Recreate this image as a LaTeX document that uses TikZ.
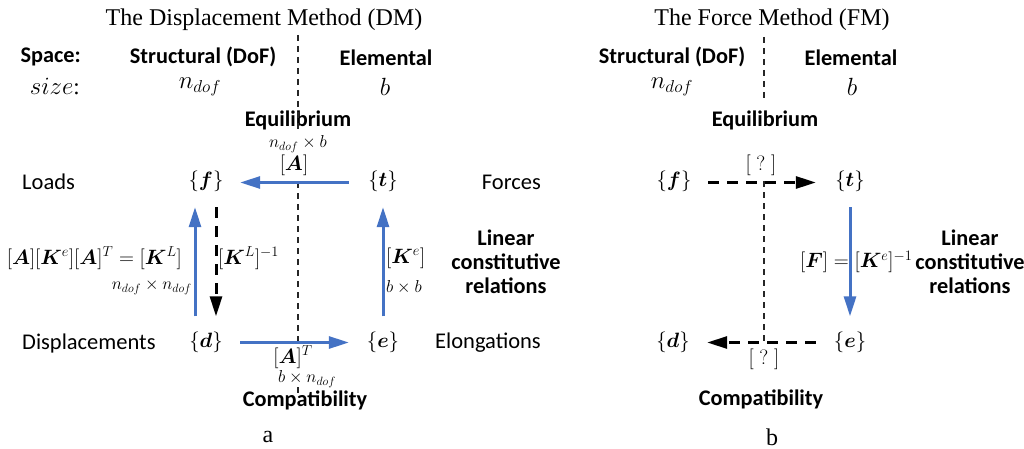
\documentclass[tikz,border=0pt]{standalone}
\usepackage{amsmath,bm}
\usepackage{fontspec}
\setmainfont{Liberation Serif}
\newfontfamily\carl{Carlito}
\usetikzlibrary{arrows.meta}
\definecolor{arblue}{HTML}{4472C4}
\tikzset{
  ttl/.style={font=\fontsize{24}{28}\selectfont},
  hd/.style={font=\carl\bfseries\fontsize{22.3}{24}\selectfont, inner sep=0pt},
  tx/.style={font=\carl\fontsize{22.5}{24}\selectfont, inner sep=1pt},
  vecn/.style={font=\fontsize{21}{24}\selectfont, minimum width=68pt, minimum height=52pt, inner sep=0pt},
  mth/.style={font=\fontsize{20}{24}\selectfont, inner sep=0pt},
  hmth/.style={font=\fontsize{23}{26}\selectfont, inner sep=1pt},
  sml/.style={font=\fontsize{17}{20}\selectfont, inner sep=0pt},
  barrow/.style={draw=arblue, line width=3pt, -{Triangle[length=20pt,width=12pt]}},
  karrow/.style={draw=black, line width=3pt, dash pattern=on 11pt off 8pt, -{Triangle[length=20pt,width=12pt]}},
  sepline/.style={draw=black!85, line width=1.3pt, dash pattern=on 6pt off 5pt},
}
\begin{document}
\begin{tikzpicture}[x=1pt, y=-1pt]
\useasboundingbox (0,0) rectangle (1024,449);
% ---------------- (a) Displacement method
\node[ttl] (ta) at (264,20) {The Displacement Method (DM)};
\node[hd, anchor=east] (spc) at (81,57) {Space:};
\node[hmth, anchor=east] (siz) at (81,87) {$size$:};
\node[hd] (sa) at (203,57) {Structural (DoF)};
\node[hmth] (na) at (200,87) {$n_{dof}$};
\node[hd] (ea) at (386,58) {Elemental};
\node[hmth] (ba) at (385,87) {$b$};
\node[hd] (eqa) at (298,120) {Equilibrium};
\node[sml] (nba) at (298,144) {$n_{dof}\times b$};
\node[mth] (Aa) at (294,165) {$[\bm{A}]$};
\node[vecn] (fa) at (206,181) {$\{\bm{f}\}$};
\node[vecn] (ta2) at (383,181) {$\{\bm{t}\}$};
\node[vecn] (da) at (206,342.5) {$\{\bm{d}\}$};
\node[vecn] (ea2) at (383,342.5) {$\{\bm{e}\}$};
\node[tx, anchor=west] (loads) at (21,182) {Loads};
\node[tx, anchor=west] (disp) at (21,343) {Displacements};
\node[tx, anchor=east] (forc) at (542,182) {Forces};
\node[tx, anchor=east] (elong) at (542,343) {Elongations};
\node[mth, anchor=east] (kla) at (182,258) {$[\bm{A}][\bm{K}^e][\bm{A}]^T=[\bm{K}^L]$};
\node[sml, anchor=east] (nna) at (192,287) {$n_{dof}\times n_{dof}$};
\node[mth, anchor=west] (kinv) at (218,258) {$[\bm{K}^L]^{-1}$};
\node[mth, anchor=west] (kea) at (386,258) {$[\bm{K}^e]$};
\node[sml, anchor=west] (bba) at (386,287) {$b\times b$};
\node[hd, align=center] (lina) at (506,262) {Linear\\constitutive\\relations};
\node[mth] (ATa) at (293,357) {$[\bm{A}]^T$};
\node[sml] (bna) at (307,379) {$b\times n_{dof}$};
\node[hd] (compa) at (305,400) {Compatibility};
\node[ttl] (la) at (268,437) {a};
% separator
\coordinate (sa1) at (298,35);
\coordinate (sa2) at (298,129);
\coordinate (sa3) at (298,182);
\coordinate (sa4) at (298,342);
\coordinate (sa5) at (298,387);
\coordinate (sa6) at (298,394);
\draw[sepline] (sa1) -- (sa2);
\draw[sepline] (sa3) -- (sa4);
\draw[sepline] (sa5) -- (sa6);
% arrows
\draw[barrow] ([yshift=-1.5pt]ta2.west) -- ([yshift=-1.5pt]fa.east);
\draw[barrow] (da.east) -- (ea2.west);
\draw[barrow] ([xshift=-11pt]da.north) -- ([xshift=-11pt]fa.south);
\draw[karrow] ([xshift=10pt]fa.south) -- ([xshift=10pt]da.north);
\draw[barrow] (ea2.north) -- (ta2.south);
% ---------------- (b) Force method
\node[ttl] (tb) at (772,20) {The Force Method (FM)};
\node[hd] (sb) at (672,57) {Structural (DoF)};
\node[hmth] (nb) at (672,87) {$n_{dof}$};
\node[hd] (eb) at (851,58) {Elemental};
\node[hmth] (bb) at (852,87) {$b$};
\node[hd] (eqb) at (765,120) {Equilibrium};
\node[vecn] (fb) at (674,181) {$\{\bm{f}\}$};
\node[vecn] (tb2) at (850,181) {$\{\bm{t}\}$};
\node[vecn] (db) at (673,342.5) {$\{\bm{d}\}$};
\node[vecn] (eb2) at (850,342.5) {$\{\bm{e}\}$};
\node[mth] (q1) at (761,165) {$[\;?\;]$};
\node[mth] (q2) at (764,359) {$[\;?\;]$};
\node[mth, anchor=west] (fkb) at (800,262) {$[\bm{F}]=[\bm{K}^e]^{-1}$};
\node[hd, align=center] (linb) at (970,262) {Linear\\constitutive\\relations};
\node[hd] (compb) at (761,399) {Compatibility};
\node[ttl] (lb) at (772,437) {b};
\coordinate (sb1) at (764,37);
\coordinate (sb2) at (764,100);
\coordinate (sb3) at (764,181);
\coordinate (sb4) at (764,342);
\draw[sepline] (sb1) -- (sb2);
\draw[sepline] (sb3) -- (sb4);
\draw[karrow] ([yshift=-1.5pt]fb.east) -- ([yshift=-1.5pt]tb2.west);
\draw[karrow] (eb2.west) -- (db.east);
\draw[barrow] (tb2.south) -- (eb2.north);
\end{tikzpicture}
\end{document}
